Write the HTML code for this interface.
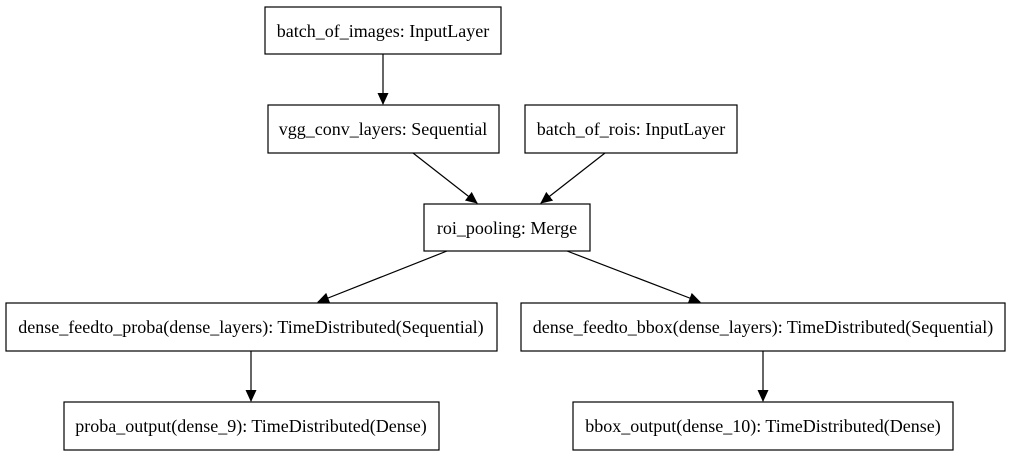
<!DOCTYPE html>
<html><head><style>body{margin:0;background:#fff}svg{display:block}text{font-family:"Liberation Serif",serif;font-size:18px;fill:#000}</style></head>
<body>
<svg width="1011" height="456" viewBox="0 0 1011 456">
<defs><marker id="a" markerWidth="12" markerHeight="12" refX="11" refY="5.5" orient="auto" markerUnits="userSpaceOnUse"><path d="M0,0 L12,5.5 L0,11 z" fill="#000"/></marker></defs>
<g fill="none" stroke="#000" stroke-width="1.2">
<rect x="265" y="7" width="236" height="47"/>
<rect x="268" y="105" width="231" height="48"/>
<rect x="525" y="105" width="212" height="48"/>
<rect x="424" y="204" width="166" height="47"/>
<rect x="6" y="303" width="491" height="48"/>
<rect x="521" y="303" width="484" height="48"/>
<rect x="64" y="402" width="375" height="48"/>
<rect x="573" y="402" width="380" height="48"/>
<g marker-end="url(#a)">
<line x1="383" y1="54" x2="383" y2="104"/>
<line x1="413" y1="153" x2="477" y2="203"/>
<line x1="605" y1="153" x2="541" y2="203"/>
<line x1="447" y1="251" x2="318" y2="302"/>
<line x1="567" y1="251" x2="700" y2="302"/>
<line x1="251" y1="351" x2="251" y2="401"/>
<line x1="763" y1="351" x2="763" y2="401"/>
</g></g>
<g text-anchor="middle">
<text x="383" y="37">batch_of_images: InputLayer</text>
<text x="383" y="135">vgg_conv_layers: Sequential</text>
<text x="631" y="135">batch_of_rois: InputLayer</text>
<text x="507" y="234">roi_pooling: Merge</text>
<text x="251" y="333">dense_feedto_proba(dense_layers): TimeDistributed(Sequential)</text>
<text x="763" y="333">dense_feedto_bbox(dense_layers): TimeDistributed(Sequential)</text>
<text x="251" y="432">proba_output(dense_9): TimeDistributed(Dense)</text>
<text x="763" y="432">bbox_output(dense_10): TimeDistributed(Dense)</text>
</g>
</svg>
</body></html>
